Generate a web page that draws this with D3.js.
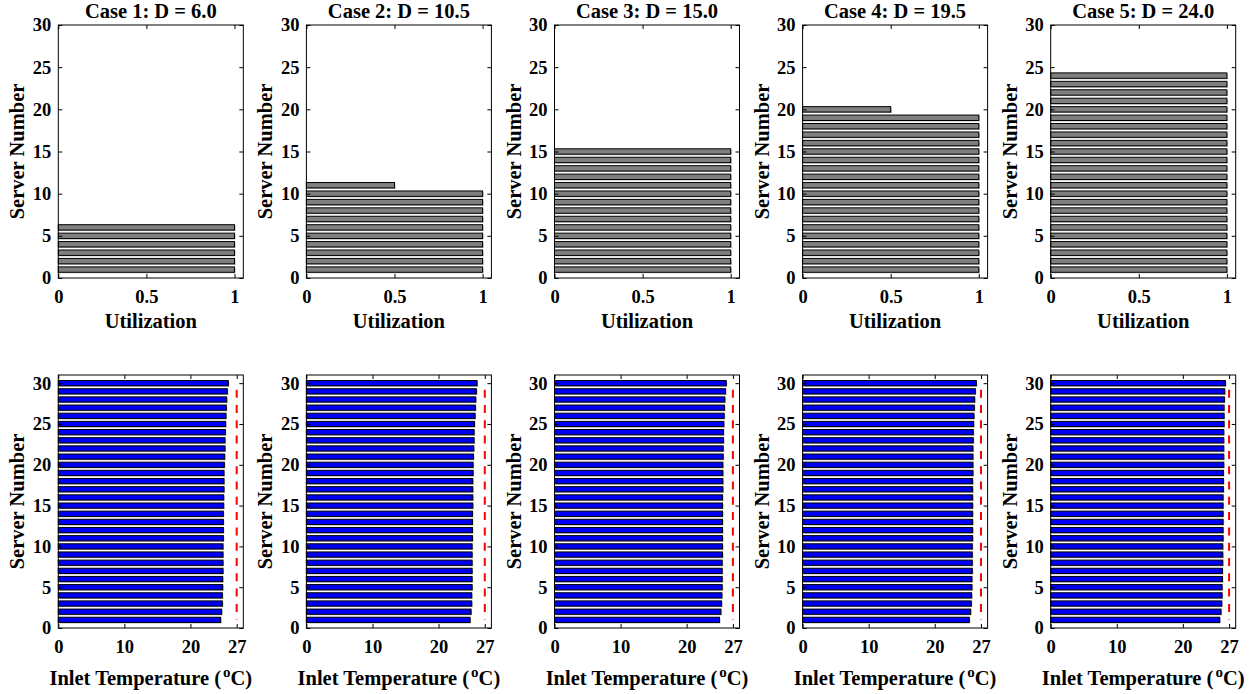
<!DOCTYPE html>
<html>
<head>
<meta charset="utf-8">
<script src="https://cdn.jsdelivr.net/npm/d3@7"></script>
<style>
  body { margin: 0; background: #fff; }
  svg text { font-family: "Liberation Serif", "Times New Roman", serif; font-weight: bold; fill: #000; }
</style>
</head>
<body>
<div id="chart"></div>
<script>
// titles of the five cases
var caseTitles = ["Case 1: D = 6.0", "Case 2: D = 10.5", "Case 3: D = 15.0", "Case 4: D = 19.5", "Case 5: D = 24.0"];

// utilization per server (server 1 first)
var util1 = [1, 1, 1, 1, 1, 1];
var util2 = [1, 1, 1, 1, 1, 1, 1, 1, 1, 1, 0.5];
var util3 = [1, 1, 1, 1, 1, 1, 1, 1, 1, 1, 1, 1, 1, 1, 1];
var util4 = [1, 1, 1, 1, 1, 1, 1, 1, 1, 1, 1, 1, 1, 1, 1, 1, 1, 1, 1, 0.5];
var util5 = [1, 1, 1, 1, 1, 1, 1, 1, 1, 1, 1, 1, 1, 1, 1, 1, 1, 1, 1, 1, 1, 1, 1, 1];

// inlet temperature per server, servers 1..30
var temp1 = [24.57, 24.72, 24.83, 24.83, 24.88, 24.88, 24.93, 24.93, 24.93, 24.93,
             24.98, 24.98, 24.98, 24.98, 25.03, 25.03, 25.08, 25.08, 25.08, 25.13,
             25.18, 25.23, 25.23, 25.28, 25.33, 25.38, 25.43, 25.48, 25.58, 25.73];
var temp2 = [24.77, 24.92, 25.02, 25.02, 25.08, 25.08, 25.08, 25.08, 25.08, 25.08,
             25.13, 25.13, 25.13, 25.13, 25.18, 25.18, 25.18, 25.18, 25.23, 25.23,
             25.28, 25.33, 25.38, 25.38, 25.43, 25.53, 25.58, 25.63, 25.73, 25.83];
var temp3 = [24.97, 25.18, 25.28, 25.33, 25.38, 25.38, 25.38, 25.38, 25.43, 25.43,
             25.43, 25.43, 25.43, 25.43, 25.43, 25.43, 25.48, 25.48, 25.48, 25.48,
             25.53, 25.53, 25.58, 25.58, 25.63, 25.68, 25.73, 25.78, 25.89, 25.99];
var temp4 = [25.23, 25.43, 25.53, 25.58, 25.63, 25.63, 25.68, 25.68, 25.68, 25.68,
             25.73, 25.73, 25.73, 25.73, 25.73, 25.73, 25.73, 25.73, 25.78, 25.78,
             25.78, 25.78, 25.83, 25.83, 25.89, 25.94, 25.99, 26.04, 26.14, 26.29];
var temp5 = [25.58, 25.78, 25.89, 25.94, 25.94, 25.99, 25.99, 26.04, 26.04, 26.04,
             26.09, 26.09, 26.09, 26.09, 26.09, 26.09, 26.14, 26.14, 26.14, 26.19,
             26.19, 26.19, 26.19, 26.19, 26.24, 26.24, 26.24, 26.29, 26.34, 26.44];

var utilTicks = [0, 0.5, 1];
var tempTicks = [0, 10, 20, 27];
var serverTicks = [0, 5, 10, 15, 20, 25, 30];
var tempLimit = 27;

var utilData = [util1, util2, util3, util4, util5];
var tempData = [temp1, temp2, temp3, temp4, temp5];

var width = 1255, height = 694;
var panelW = 185, panelH = 253, step = 248.1, left0 = 58.3;
var topY = 25, bottomY = 375;
var barHalf = 0.32;

var svg = d3.select("#chart").append("svg").attr("width", width).attr("height", height);

function drawPanel(g, x, y, xTicks, yTicks) {
  g.append("rect").attr("width", panelW).attr("height", panelH)
    .attr("fill", "none").attr("stroke", "#000").attr("stroke-width", 1);

  g.append("g").attr("transform", "translate(0," + panelH + ")")
    .call(d3.axisBottom(x).tickValues(xTicks).tickSize(-4).tickPadding(12).tickFormat(d3.format("")));
  g.append("g").call(d3.axisTop(x).tickValues(xTicks).tickSize(-4).tickFormat(""));
  g.append("g").call(d3.axisLeft(y).tickValues(yTicks).tickSize(-4).tickPadding(7));
  g.append("g").attr("transform", "translate(" + panelW + ",0)")
    .call(d3.axisRight(y).tickValues(yTicks).tickSize(-4).tickFormat(""));

  g.selectAll(".domain").remove();
  g.selectAll(".tick line").attr("stroke", "#000");
  g.selectAll(".tick text").attr("font-size", 18.5).attr("font-family", null).attr("fill", "#000");

  g.append("text").attr("transform", "translate(-34," + panelH / 2 + ") rotate(-90)")
    .attr("text-anchor", "middle").attr("font-size", 20.5).text("Server Number");
}

function drawBars(g, x, y, values, fill) {
  var bars = g.append("g").selectAll("g").data(values).enter().append("g");
  bars.append("rect")
    .attr("x", x(0) + 1)
    .attr("y", function (d, i) { return y(i + 1 + barHalf) + 1; })
    .attr("width", function (d) { return x(d) - x(0); })
    .attr("height", function (d, i) { return y(i + 1 - barHalf) - y(i + 1 + barHalf); })
    .attr("fill", "#b0b0b0");
  bars.append("rect")
    .attr("x", x(0))
    .attr("y", function (d, i) { return y(i + 1 + barHalf); })
    .attr("width", function (d) { return x(d) - x(0); })
    .attr("height", function (d, i) { return y(i + 1 - barHalf) - y(i + 1 + barHalf); })
    .attr("fill", fill).attr("stroke", "#000").attr("stroke-width", 1);
}

caseTitles.forEach(function (title, k) {
  var left = left0 + k * step;

  // utilization panel
  var xu = d3.scaleLinear().domain([0, 1.05]).range([0, panelW]);
  var yu = d3.scaleLinear().domain([0, 30]).range([panelH, 0]);
  var gu = svg.append("g").attr("transform", "translate(" + left + "," + topY + ")");
  drawBars(gu, xu, yu, utilData[k], "#7f7f7f");
  drawPanel(gu, xu, yu, utilTicks, serverTicks);
  gu.append("text").attr("x", panelW / 2).attr("y", -7).attr("text-anchor", "middle")
    .attr("font-size", 20.5).text(title);
  gu.append("text").attr("x", panelW / 2).attr("y", panelH + 50).attr("text-anchor", "middle")
    .attr("font-size", 20.5).text("Utilization");

  // inlet temperature panel
  var xt = d3.scaleLinear().domain([0, 28]).range([0, panelW]);
  var yt = d3.scaleLinear().domain([0, 31]).range([panelH, 0]);
  var gt = svg.append("g").attr("transform", "translate(" + left + "," + bottomY + ")");
  drawBars(gt, xt, yt, tempData[k], "#0000f5");
  gt.append("path")
    .attr("d", d3.line()([[xt(tempLimit), yt(29.2)], [xt(tempLimit), yt(1)]]))
    .attr("stroke", "#ff0000").attr("stroke-width", 2).attr("stroke-dasharray", "8,7.3");
  drawPanel(gt, xt, yt, tempTicks, serverTicks);
  var lab = gt.append("text").attr("x", panelW / 2).attr("y", panelH + 57).attr("text-anchor", "middle")
    .attr("font-size", 20.5);
  lab.append("tspan").text("Inlet Temperature (");
  lab.append("tspan").attr("font-size", 15).attr("dx", 2).attr("dy", -8).text("o");
  lab.append("tspan").attr("dy", 8).text("C)");
});
</script>
</body>
</html>
